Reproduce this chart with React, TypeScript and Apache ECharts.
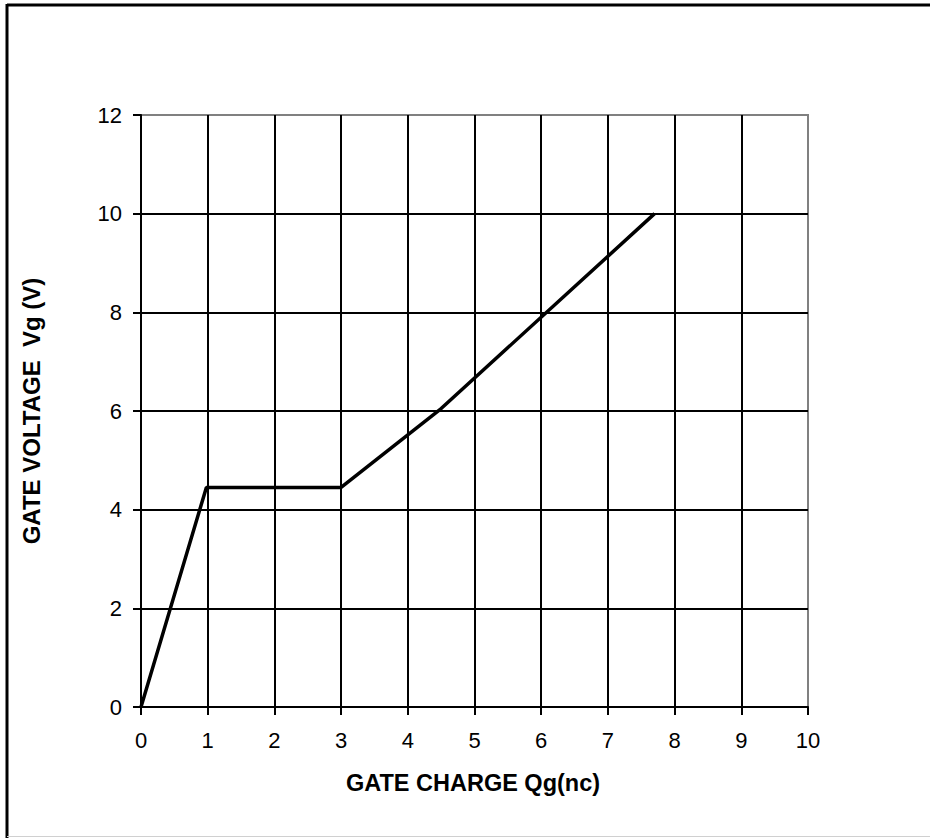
import React, { useEffect, useRef } from "react";
import * as echarts from "echarts";

const chargeNc = [0, 0.98, 3, 4.5, 7.7];
const voltageV = [0, 4.45, 4.45, 6.05, 10];
const xAxisRange = { min: 0, max: 10, interval: 1 };
const yAxisRange = { min: 0, max: 12, interval: 2 };
const xTitle = "GATE CHARGE Qg(nc)";
const yTitle = "GATE VOLTAGE  Vg (V)";

export default function App() {
  const ref = useRef<HTMLDivElement>(null);
  useEffect(() => {
    document.body.style.margin = "0";
    const chart = echarts.init(ref.current!, null, { renderer: "svg" });
    const font = "'Liberation Sans', Arial, sans-serif";
    chart.setOption({
      animation: false,
      backgroundColor: "#fff",
      grid: {
        left: 141,
        top: 115,
        right: 122,
        bottom: 131,
        show: true,
        borderColor: "#808080",
        borderWidth: 2,
      },
      xAxis: {
        type: "value",
        ...xAxisRange,
        axisLine: { show: true, onZero: false, lineStyle: { color: "#000", width: 2 } },
        axisTick: { show: true, inside: false, length: 8, lineStyle: { color: "#000", width: 2 } },
        axisLabel: { margin: 22, fontSize: 22, color: "#000", fontFamily: font },
        splitLine: { show: true, showMinLine: false, showMaxLine: false, lineStyle: { color: "#000", width: 2 } },
      },
      yAxis: {
        type: "value",
        ...yAxisRange,
        axisLine: { show: true, onZero: false, lineStyle: { color: "#000", width: 2 } },
        axisTick: { show: true, inside: false, length: 8, lineStyle: { color: "#000", width: 2 } },
        axisLabel: { margin: 19, fontSize: 22, color: "#000", fontFamily: font },
        splitLine: { show: true, showMinLine: false, showMaxLine: false, lineStyle: { color: "#000", width: 2 } },
      },
      series: [
        {
          type: "line",
          data: chargeNc.map((x, i) => [x, voltageV[i]]),
          showSymbol: false,
          symbol: "none",
          lineStyle: { color: "#000", width: 3.5 },
          z: 5,
        },
      ],
      graphic: [
        { type: "line", shape: { x1: 7, y1: 5, x2: 930, y2: 5 }, style: { stroke: "#000", lineWidth: 3 } },
        { type: "line", shape: { x1: 7, y1: 4, x2: 7, y2: 838 }, style: { stroke: "#000", lineWidth: 3 } },
        { type: "line", shape: { x1: 7, y1: 836.5, x2: 930, y2: 836.5 }, style: { stroke: "#d0d0d0", lineWidth: 1 } },
        {
          type: "text",
          x: 473,
          y: 783,
          style: { text: xTitle, fontSize: 23.5, fontWeight: "bold", fontFamily: font, fill: "#000", align: "center", verticalAlign: "middle" },
        },
        {
          type: "text",
          x: 31,
          y: 411,
          rotation: Math.PI / 2,
          style: { text: yTitle, fontSize: 24, fontWeight: "bold", fontFamily: font, fill: "#000", align: "center", verticalAlign: "middle" },
        },
      ],
    });
    return () => chart.dispose();
  }, []);
  return <div ref={ref} style={{ width: 930, height: 838 }} />;
}
